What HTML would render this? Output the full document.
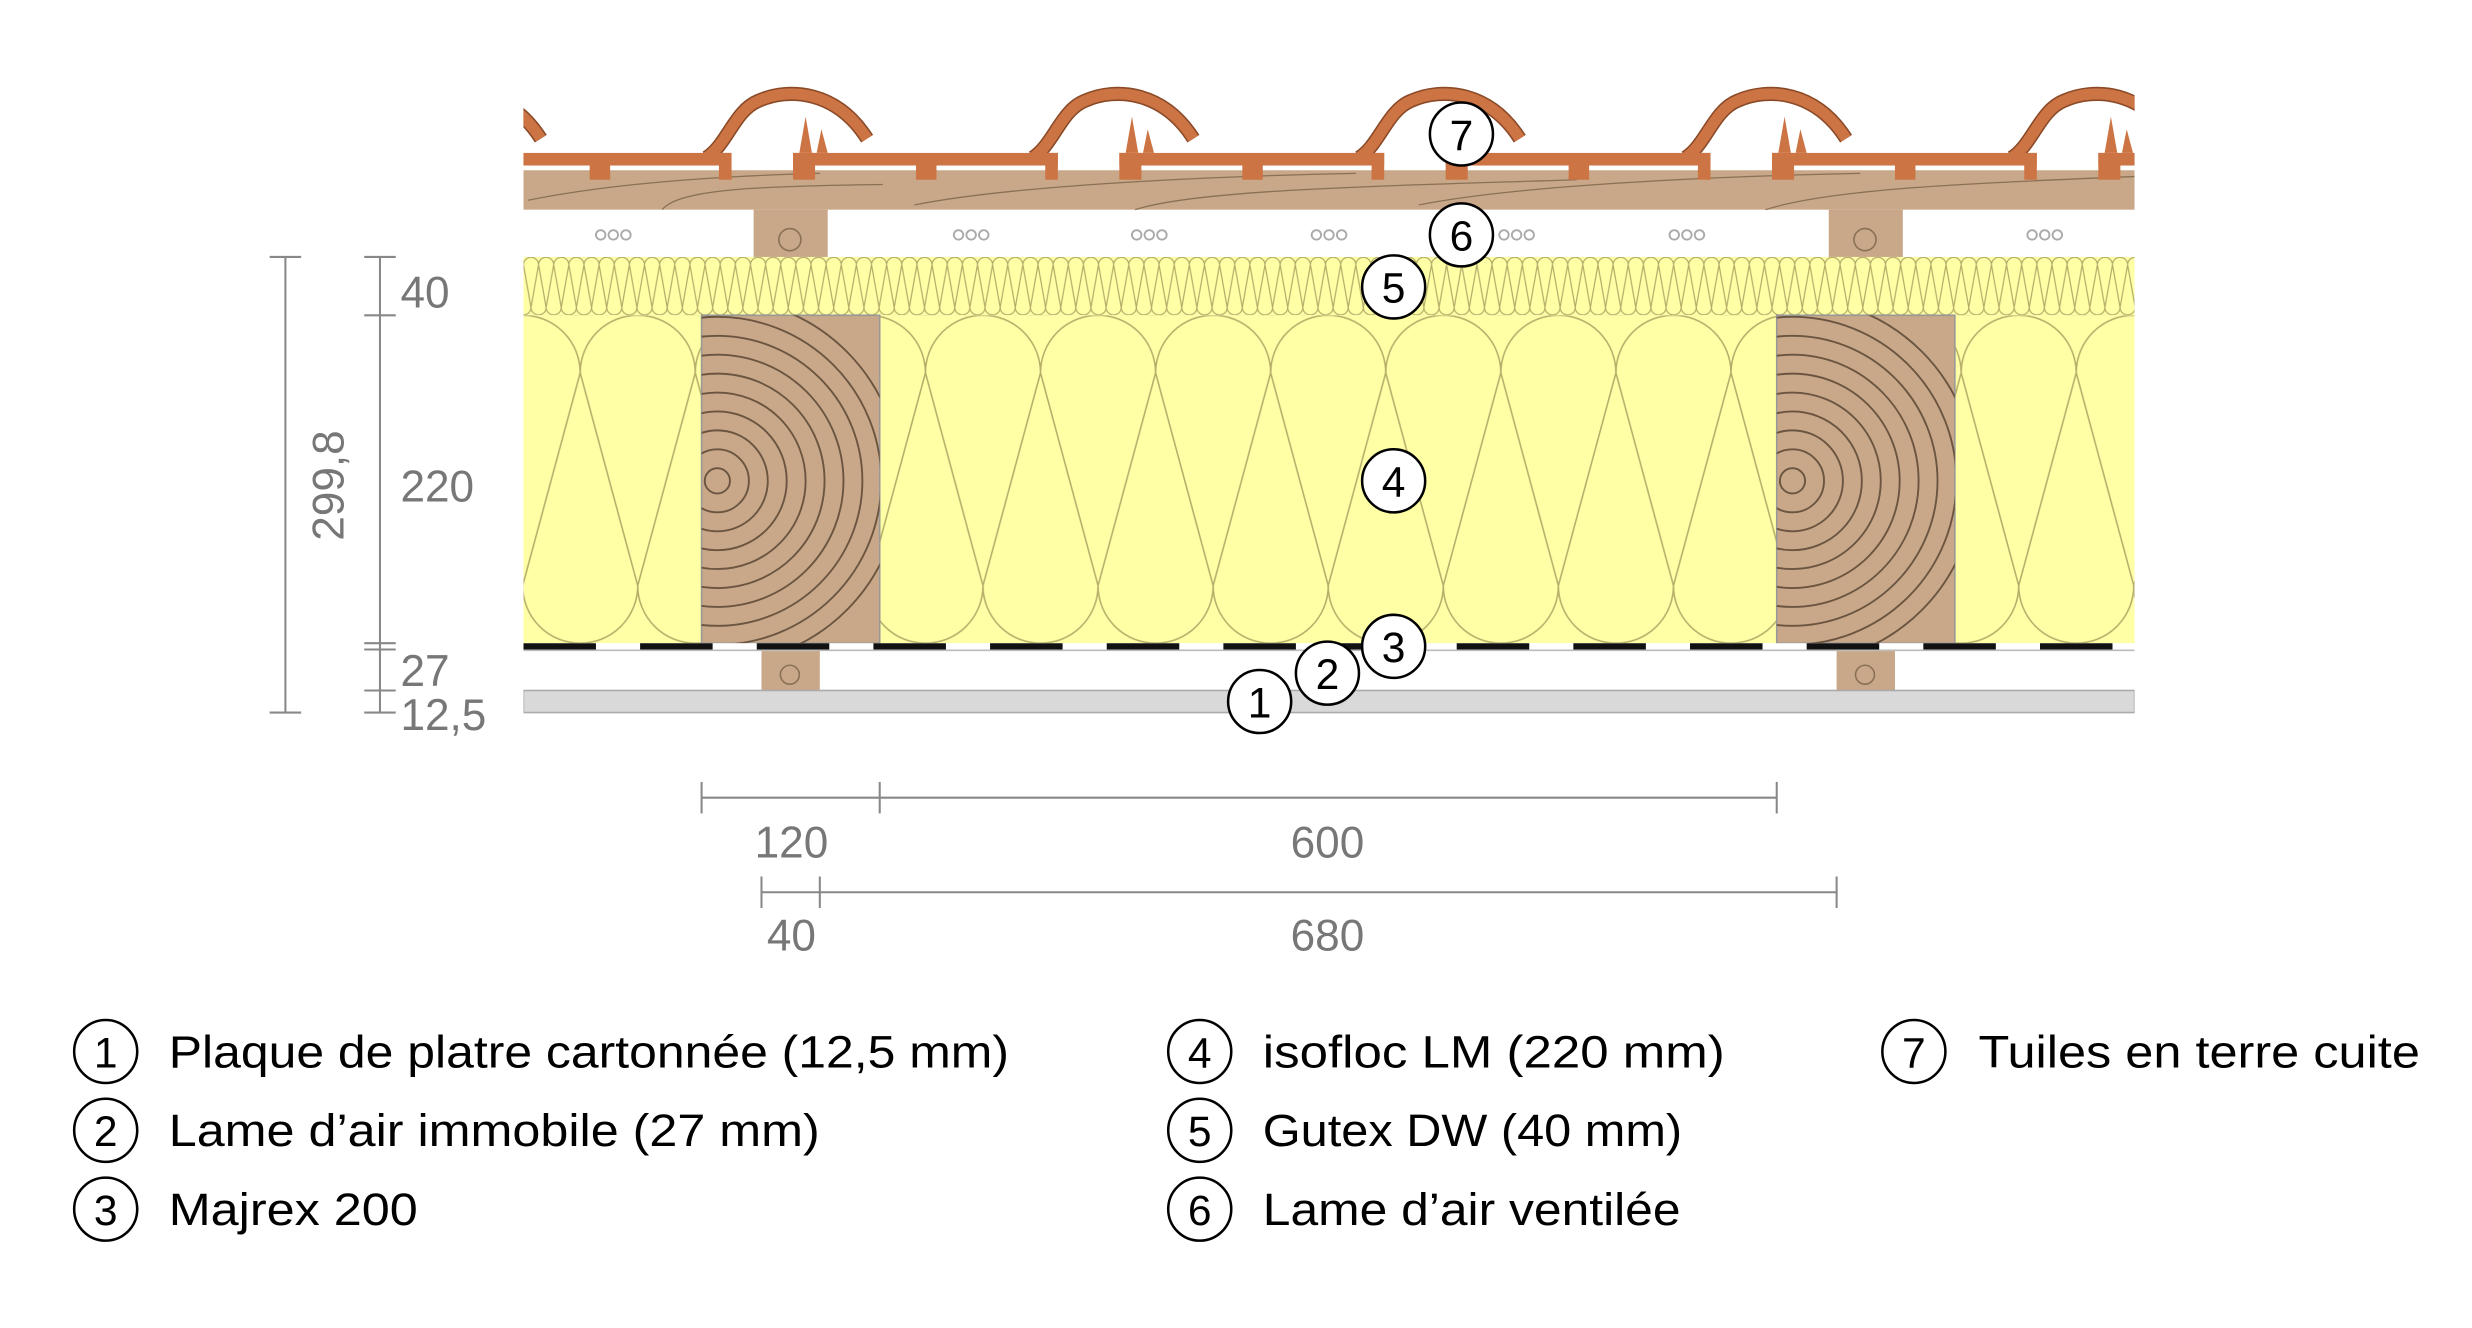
<!DOCTYPE html>
<html><head><meta charset="utf-8"><style>
html,body{margin:0;padding:0;background:#fff;}
svg{display:block;}
</style></head><body>
<svg width="2472" height="1328" viewBox="0 0 1568 842.4" xmlns="http://www.w3.org/2000/svg" font-family="Liberation Sans, sans-serif">
<defs>
<pattern id="ins" patternUnits="userSpaceOnUse" x="295" y="200" width="73" height="208">
<g fill="none" stroke="#b5ae6a" stroke-width="1">
<path d="M0,36.5 A36.5,36.5 0 0 1 73,36.5"/>
<path d="M-36.5,171.5 A36.5,36.5 0 0 0 36.5,171.5"/>
<path d="M36.5,171.5 A36.5,36.5 0 0 0 109.5,171.5"/>
<path d="M0,36.5 L36.5,171.5 M73,36.5 L36.5,171.5"/>
</g></pattern>
<pattern id="gut" patternUnits="userSpaceOnUse" x="332" y="163" width="9.6" height="37">
<g fill="none" stroke="#b5ae6a" stroke-width="0.8">
<path d="M0,5 A4.8,4.8 0 0 1 9.6,5"/>
<path d="M-4.8,32 A4.8,4.8 0 0 0 4.8,32"/>
<path d="M4.8,32 A4.8,4.8 0 0 0 14.4,32"/>
<path d="M0,5 L4.8,32 M9.6,5 L4.8,32"/>
</g></pattern>
<clipPath id="cl"><rect x="332" y="40" width="1022" height="420"/></clipPath>
<clipPath id="r1"><rect x="445" y="200" width="113" height="208"/></clipPath>
<clipPath id="r2"><rect x="1127" y="200" width="113" height="208"/></clipPath>
<g id="tile">
<path d="M152,100 C165,92 170,70 185,64 C205,55 235,58 254,88" fill="none" stroke="#8a4a28" stroke-width="9"/>
<path d="M152,100 C165,92 170,70 185,64 C205,55 235,58 254,88" fill="none" stroke="#cd7444" stroke-width="7"/>
<rect x="0" y="97" width="168" height="8" fill="#cd7444"/>
<rect x="0" y="97" width="14" height="17" fill="#cd7444"/>
<rect x="78" y="104" width="13" height="10" fill="#cd7444"/>
<rect x="160" y="97" width="8" height="17" fill="#cd7444"/>
<path d="M4,97 L8,74 L12,97 Z M15,97 L18,82 L22,97 Z" fill="#cd7444"/>
</g>
<g id="grain" fill="none" stroke="#6b5540" stroke-width="1.2">
<circle cx="0" cy="0" r="8"/><circle cx="0" cy="0" r="20"/><circle cx="0" cy="0" r="32"/><circle cx="0" cy="0" r="44"/><circle cx="0" cy="0" r="56"/><circle cx="0" cy="0" r="68"/><circle cx="0" cy="0" r="80"/><circle cx="0" cy="0" r="92"/><circle cx="0" cy="0" r="104"/><circle cx="0" cy="0" r="116"/>
</g>
</defs>

<g clip-path="url(#cl)">
<rect x="332" y="108" width="1022" height="25" fill="#c8a888"/>
<path d="M335,127 C380,118 440,112 520,110 M420,133 C430,120 480,118 560,117 M580,130 C640,118 760,112 860,110 M720,133 C760,120 880,118 1000,114 M900,130 C960,118 1080,112 1180,110 M1120,133 C1160,120 1250,116 1354,112" fill="none" stroke="#8a7055" stroke-width="0.8"/>
<rect x="478" y="133" width="47" height="30" fill="#c8a888"/>
<rect x="1160" y="133" width="47" height="30" fill="#c8a888"/>
<circle cx="501" cy="152" r="7" fill="none" stroke="#8a7055"/><circle cx="1183" cy="152" r="7" fill="none" stroke="#8a7055"/>
<use href="#tile" x="89"/><use href="#tile" x="296"/><use href="#tile" x="503"/><use href="#tile" x="710"/><use href="#tile" x="917"/><use href="#tile" x="1124"/><use href="#tile" x="1331"/>
<g fill="none" stroke="#aaa" stroke-width="1.2">
<g id="ooo"><circle cx="-8" cy="0" r="3"/><circle cx="0" cy="0" r="3"/><circle cx="8" cy="0" r="3"/></g>
</g>
<g fill="none" stroke="#aaa" stroke-width="1.2">
<use href="#ooo" x="389" y="149"/><use href="#ooo" x="616" y="149"/><use href="#ooo" x="729" y="149"/><use href="#ooo" x="843" y="149"/><use href="#ooo" x="962" y="149"/><use href="#ooo" x="1070" y="149"/><use href="#ooo" x="1297" y="149"/>
</g>
<rect x="332" y="163" width="1022" height="37" fill="#ffffa6"/>
<rect x="332" y="163" width="1022" height="37" fill="url(#gut)"/>
<rect x="332" y="200" width="1022" height="208" fill="#ffffa6"/>
<rect x="332" y="200" width="1022" height="208" fill="url(#ins)"/>
<rect x="445" y="200" width="113" height="208" fill="#c8a888" stroke="#999" stroke-width="1"/>
<rect x="1127" y="200" width="113" height="208" fill="#c8a888" stroke="#999" stroke-width="1"/>
<g clip-path="url(#r1)"><use href="#grain" x="455" y="305"/></g>
<g clip-path="url(#r2)"><use href="#grain" x="1137" y="305"/></g>
<rect x="332" y="408" width="1022" height="4" fill="#fff"/>
<line x1="332" y1="410" x2="1354" y2="410" stroke="#111" stroke-width="4" stroke-dasharray="46,28"/>
<line x1="332" y1="412.5" x2="1354" y2="412.5" stroke="#bbb" stroke-width="1"/>
<rect x="483" y="413" width="37" height="25" fill="#c8a888"/>
<rect x="1165" y="413" width="37" height="25" fill="#c8a888"/>
<circle cx="501" cy="428" r="6" fill="none" stroke="#8a7055"/><circle cx="1183" cy="428" r="6" fill="none" stroke="#8a7055"/>
<rect x="332" y="438" width="1022" height="14" fill="#d9d9d9" stroke="#aaa" stroke-width="1"/>
</g>

<g stroke="#888" stroke-width="1.3" fill="none">
<line x1="181" y1="163" x2="181" y2="452"/><line x1="171" y1="163" x2="191" y2="163"/><line x1="171" y1="452" x2="191" y2="452"/>
<line x1="241" y1="163" x2="241" y2="452"/>
<line x1="231" y1="163" x2="251" y2="163"/><line x1="231" y1="200" x2="251" y2="200"/><line x1="231" y1="408" x2="251" y2="408"/><line x1="231" y1="412" x2="251" y2="412"/><line x1="231" y1="438" x2="251" y2="438"/><line x1="231" y1="452" x2="251" y2="452"/>
<line x1="445" y1="506" x2="1127" y2="506"/><line x1="445" y1="496" x2="445" y2="516"/><line x1="558" y1="496" x2="558" y2="516"/><line x1="1127" y1="496" x2="1127" y2="516"/>
<line x1="483" y1="566" x2="1165" y2="566"/><line x1="483" y1="556" x2="483" y2="576"/><line x1="520" y1="556" x2="520" y2="576"/><line x1="1165" y1="556" x2="1165" y2="576"/>
</g>
<g fill="#777" font-size="28">
<text x="254" y="195">40</text>
<text x="254" y="318">220</text>
<text x="254" y="435">27</text>
<text x="254" y="463">12,5</text>
<text x="218" y="308" transform="rotate(-90 218 308)" text-anchor="middle">299,8</text>
<text x="502" y="544" text-anchor="middle">120</text>
<text x="842" y="544" text-anchor="middle">600</text>
<text x="502" y="603" text-anchor="middle">40</text>
<text x="842" y="603" text-anchor="middle">680</text>
</g>

<g font-size="27" text-anchor="middle" fill="#000">
<g stroke="#000" stroke-width="1.6" fill="#fff">
<circle cx="927" cy="85" r="20"/><circle cx="927" cy="149" r="20"/><circle cx="884" cy="182" r="20"/><circle cx="884" cy="305" r="20"/><circle cx="884" cy="410" r="20"/><circle cx="842" cy="427" r="20"/><circle cx="799" cy="445" r="20"/>
</g>
<text x="927" y="95">7</text><text x="927" y="159">6</text><text x="884" y="192">5</text><text x="884" y="315">4</text><text x="884" y="420">3</text><text x="842" y="437">2</text><text x="799" y="455">1</text>
</g>

<g stroke="#000" stroke-width="1.6" fill="#fff">
<circle cx="67" cy="667" r="20"/><circle cx="67" cy="717" r="20"/><circle cx="67" cy="767" r="20"/>
<circle cx="761" cy="667" r="20"/><circle cx="761" cy="717" r="20"/><circle cx="761" cy="767" r="20"/>
<circle cx="1214" cy="667" r="20"/>
</g>
<g font-size="27" text-anchor="middle" fill="#000">
<text x="67" y="677">1</text><text x="67" y="727">2</text><text x="67" y="777">3</text>
<text x="761" y="677">4</text><text x="761" y="727">5</text><text x="761" y="777">6</text>
<text x="1214" y="677">7</text>
</g>
<g font-size="29" fill="#000">
<text x="107" y="677" textLength="533" lengthAdjust="spacingAndGlyphs">Plaque de platre cartonnée (12,5 mm)</text>
<text x="107" y="727" textLength="413" lengthAdjust="spacingAndGlyphs">Lame d’air immobile (27 mm)</text>
<text x="107" y="777" textLength="158" lengthAdjust="spacingAndGlyphs">Majrex 200</text>
<text x="801" y="677" textLength="293" lengthAdjust="spacingAndGlyphs">isofloc LM (220 mm)</text>
<text x="801" y="727" textLength="266" lengthAdjust="spacingAndGlyphs">Gutex DW (40 mm)</text>
<text x="801" y="777" textLength="265" lengthAdjust="spacingAndGlyphs">Lame d’air ventilée</text>
<text x="1255" y="677" textLength="280" lengthAdjust="spacingAndGlyphs">Tuiles en terre cuite</text>
</g>
</svg>
</body></html>
